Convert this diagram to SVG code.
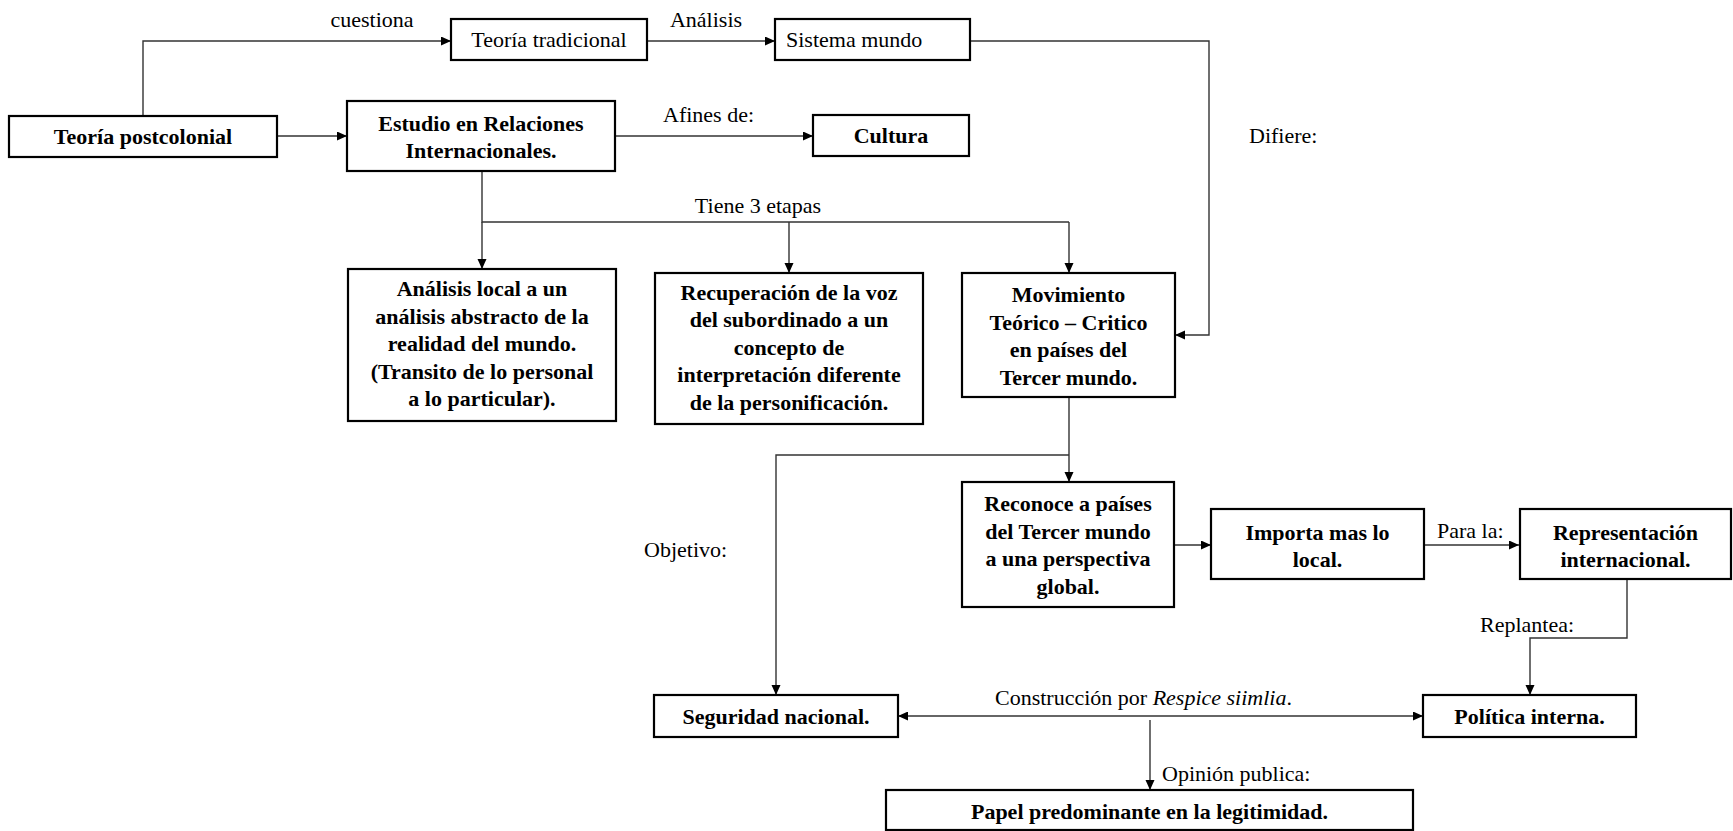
<svg xmlns="http://www.w3.org/2000/svg" width="1733" height="831" viewBox="0 0 1733 831">
<style>
.box{fill:#fff;stroke:#000;stroke-width:2.2}
.t{font-family:"Liberation Serif","Times New Roman",serif;font-size:22px;fill:#000}
.b{font-weight:bold}
.c{text-anchor:middle}
.ln{fill:none;stroke:#333;stroke-width:1.4}
.ar{marker-end:url(#ah)}
</style>
<defs>
<marker id="ah" markerUnits="userSpaceOnUse" markerWidth="11" markerHeight="10" refX="10" refY="4.5" orient="auto">
<path d="M0,0 L10,4.5 L0,9 z" fill="#000"/>
</marker>
<marker id="ahs" markerUnits="userSpaceOnUse" markerWidth="11" markerHeight="10" refX="0" refY="4.5" orient="auto">
<path d="M10,0 L0,4.5 L10,9 z" fill="#000"/>
</marker>
</defs>
<rect width="1733" height="831" fill="#fff"/>
<g id="connectors">
<path class="ln ar" d="M143,116 V41 H451"/>
<path class="ln ar" d="M647,41 H775"/>
<path class="ln ar" d="M277,136 H347"/>
<path class="ln ar" d="M615,136 H813"/>
<path class="ln ar" d="M970,41 H1209 V335 H1175"/>
<path class="ln" d="M482,171 V222 H1069"/>
<path class="ln ar" d="M482,222 V269"/>
<path class="ln ar" d="M789,222 V273"/>
<path class="ln ar" d="M1069,222 V273"/>
<path class="ln ar" d="M1069,397 V482"/>
<path class="ln ar" d="M1069,455 H776 V695"/>
<path class="ln ar" d="M1174,545 H1211"/>
<path class="ln ar" d="M1424,545 H1519"/>
<path class="ln ar" d="M1627,579 V638 H1530 V695"/>
<path class="ln ar" d="M898,716 H1423" marker-start="url(#ahs)"/>
<path class="ln ar" d="M1150,720 V790"/>
<text class="t c" x="372" y="27">cuestiona</text>
<text class="t c" x="706" y="27">Análisis</text>
<text class="t" x="663" y="122">Afines de:</text>
<text class="t" x="1249" y="143">Difiere:</text>
<text class="t c" x="758" y="213">Tiene 3 etapas</text>
<text class="t" x="644" y="557">Objetivo:</text>
<text class="t" x="1437" y="538">Para la:</text>
<text class="t" x="1480" y="632">Replantea:</text>
<text class="t" x="995" y="705">Construcción por <tspan font-style="italic">Respice siimlia</tspan>.</text>
<text class="t" x="1162" y="781">Opinión publica:</text>
</g>
<g id="n-postcolonial">
<rect class="box" x="9" y="116" width="268" height="41"/>
<text class="t b c" x="143" y="144">Teoría postcolonial</text>
</g>
<g id="n-tradicional">
<rect class="box" x="451" y="19" width="196" height="41"/>
<text class="t c" x="549" y="47">Teoría tradicional</text>
</g>
<g id="n-sistema">
<rect class="box" x="775" y="19" width="195" height="41"/>
<text class="t" x="786" y="47">Sistema mundo</text>
</g>
<g id="n-estudio">
<rect class="box" x="347" y="101" width="268" height="70"/>
<text class="t b c" x="481" y="131">Estudio en Relaciones</text>
<text class="t b c" x="481" y="158">Internacionales.</text>
</g>
<g id="n-cultura">
<rect class="box" x="813" y="115" width="156" height="41"/>
<text class="t b c" x="891" y="143">Cultura</text>
</g>
<g id="n-analisis">
<rect class="box" x="348" y="269" width="268" height="152"/>
<text class="t b c" x="482" y="296">Análisis local a un</text>
<text class="t b c" x="482" y="323.5">análisis abstracto de la</text>
<text class="t b c" x="482" y="351">realidad del mundo.</text>
<text class="t b c" x="482" y="378.5">(Transito de lo personal</text>
<text class="t b c" x="482" y="406">a lo particular).</text>
</g>
<g id="n-recuperacion">
<rect class="box" x="655" y="273" width="268" height="151"/>
<text class="t b c" x="789" y="299.5">Recuperación de la voz</text>
<text class="t b c" x="789" y="327">del subordinado a un</text>
<text class="t b c" x="789" y="354.5">concepto de</text>
<text class="t b c" x="789" y="382">interpretación diferente</text>
<text class="t b c" x="789" y="409.5">de la personificación.</text>
</g>
<g id="n-movimiento">
<rect class="box" x="962" y="273" width="213" height="124"/>
<text class="t b c" x="1068.5" y="302">Movimiento</text>
<text class="t b c" x="1068.5" y="329.5">Teórico – Critico</text>
<text class="t b c" x="1068.5" y="357">en países del</text>
<text class="t b c" x="1068.5" y="384.5">Tercer mundo.</text>
</g>
<g id="n-reconoce">
<rect class="box" x="962" y="482" width="212" height="125"/>
<text class="t b c" x="1068" y="511">Reconoce a países</text>
<text class="t b c" x="1068" y="538.5">del Tercer mundo</text>
<text class="t b c" x="1068" y="566">a una perspectiva</text>
<text class="t b c" x="1068" y="593.5">global.</text>
</g>
<g id="n-importa">
<rect class="box" x="1211" y="509" width="213" height="70"/>
<text class="t b c" x="1317.5" y="539.5">Importa mas lo</text>
<text class="t b c" x="1317.5" y="567">local.</text>
</g>
<g id="n-representacion">
<rect class="box" x="1520" y="509" width="211" height="70"/>
<text class="t b c" x="1625.5" y="539.5">Representación</text>
<text class="t b c" x="1625.5" y="567">internacional.</text>
</g>
<g id="n-seguridad">
<rect class="box" x="654" y="695" width="244" height="42"/>
<text class="t b c" x="776" y="723.5">Seguridad nacional.</text>
</g>
<g id="n-politica">
<rect class="box" x="1423" y="695" width="213" height="42"/>
<text class="t b c" x="1529.5" y="723.5">Política interna.</text>
</g>
<g id="n-papel">
<rect class="box" x="886" y="790" width="527" height="40"/>
<text class="t b c" x="1149.5" y="819">Papel predominante en la legitimidad.</text>
</g>
</svg>
